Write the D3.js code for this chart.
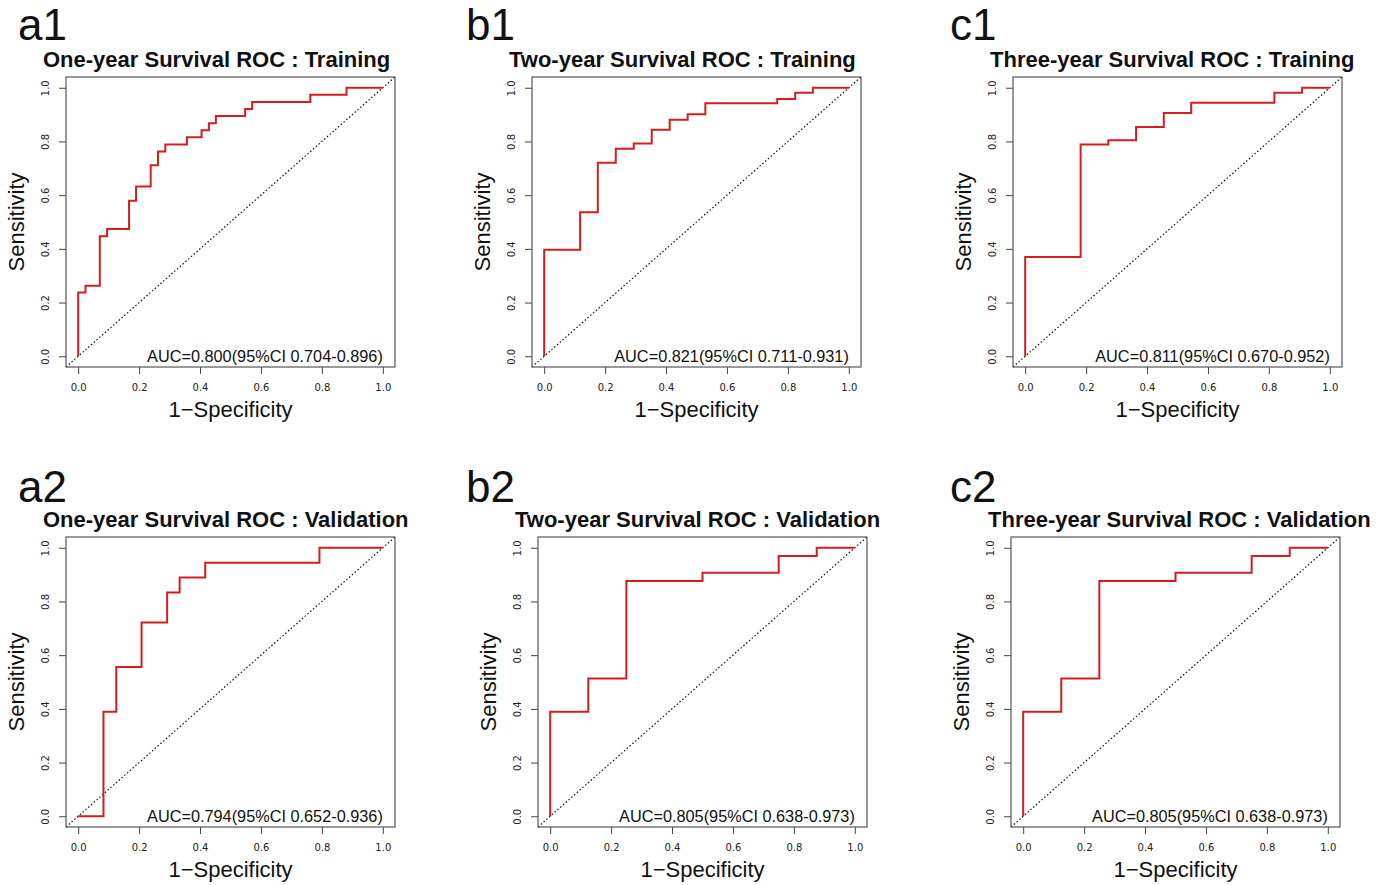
<!DOCTYPE html>
<html>
<head>
<meta charset="utf-8">
<script src="https://cdn.jsdelivr.net/npm/d3@7"></script>
<style>
  body { margin: 0; background: #fff; }
  svg { display: block; font-family: "Liberation Sans", Arial, sans-serif; }
</style>
</head>
<body>
<div id="chart"></div>
<script>
// Panel labels, titles and AUC notes
const panelIds = ['a1', 'b1', 'c1', 'a2', 'b2', 'c2'];
const titles = [
  'One-year Survival ROC : Training',
  'Two-year Survival ROC : Training',
  'Three-year Survival ROC : Training',
  'One-year Survival ROC : Validation',
  'Two-year Survival ROC : Validation',
  'Three-year Survival ROC : Validation',
];
const aucLabels = [
  'AUC=0.800(95%CI 0.704-0.896)',
  'AUC=0.821(95%CI 0.711-0.931)',
  'AUC=0.811(95%CI 0.670-0.952)',
  'AUC=0.794(95%CI 0.652-0.936)',
  'AUC=0.805(95%CI 0.638-0.973)',
  'AUC=0.805(95%CI 0.638-0.973)',
];

// ROC step corners (1-specificity, sensitivity)
const fprA1 = [0, 0, 0.024, 0.071, 0.095, 0.167, 0.190, 0.238, 0.262, 0.286, 0.357, 0.405, 0.429, 0.452, 0.548, 0.571, 0.762, 0.881, 1];
const tprA1 = [0, 0.237, 0.263, 0.447, 0.474, 0.579, 0.632, 0.711, 0.763, 0.789, 0.816, 0.842, 0.868, 0.895, 0.921, 0.947, 0.974, 1, 1];

const fprB1 = [0, 0, 0.118, 0.176, 0.235, 0.294, 0.353, 0.412, 0.471, 0.529, 0.765, 0.824, 0.882, 1];
const tprB1 = [0, 0.397, 0.536, 0.721, 0.773, 0.792, 0.844, 0.881, 0.901, 0.942, 0.958, 0.981, 1, 1];

const fprC1 = [0, 0, 0.182, 0.273, 0.364, 0.455, 0.545, 0.818, 0.909, 1];
const tprC1 = [0, 0.370, 0.789, 0.804, 0.854, 0.906, 0.944, 0.981, 1, 1];

const fprA2 = [0, 0.083, 0.125, 0.208, 0.292, 0.333, 0.417, 0.792, 1];
const tprA2 = [0, 0.389, 0.556, 0.722, 0.833, 0.889, 0.944, 1, 1];

const fprB2 = [0, 0, 0.125, 0.250, 0.500, 0.750, 0.875, 1];
const tprB2 = [0, 0.389, 0.513, 0.876, 0.907, 0.969, 1, 1];

const fprC2 = [0, 0, 0.125, 0.250, 0.500, 0.750, 0.875, 1];
const tprC2 = [0, 0.389, 0.513, 0.876, 0.907, 0.969, 1, 1];

const fprs = [fprA1, fprB1, fprC1, fprA2, fprB2, fprC2];
const tprs = [tprA1, tprB1, tprC1, tprA2, tprB2, tprC2];

const tickValues = [0, 0.2, 0.4, 0.6, 0.8, 1.0];

// Layout: box left / top for each panel, and where the big panel letter sits
const W = 1388, H = 885;
const boxW = 329, boxH = 290;
const boxes = [
  { left: 66, top: 77, letterX: 18, letterY: 40 },
  { left: 532, top: 77, letterX: 466, letterY: 40 },
  { left: 1013, top: 77, letterX: 950, letterY: 40 },
  { left: 66, top: 537, letterX: 18, letterY: 502 },
  { left: 538, top: 537, letterX: 466, letterY: 502 },
  { left: 1011, top: 537, letterX: 950, letterY: 502 },
];

const svg = d3.select('#chart').append('svg')
  .attr('width', W)
  .attr('height', H);

svg.append('rect').attr('width', W).attr('height', H).attr('fill', '#fff');

panelIds.forEach((id, i) => {
  const b = boxes[i];

  // Panel letter
  svg.append('text')
    .attr('x', b.letterX)
    .attr('y', b.letterY)
    .attr('font-size', 44)
    .attr('fill', '#111')
    .text(id);

  const g = svg.append('g').attr('transform', `translate(${b.left},${b.top})`);

  const x = d3.scaleLinear().domain([-0.04, 1.04]).range([0, boxW]);
  const y = d3.scaleLinear().domain([-0.04, 1.04]).range([boxH, 0]);

  // Title
  g.append('text')
    .attr('x', -23)
    .attr('y', -10)
    .attr('font-size', 22)
    .attr('font-weight', 'bold')
    .attr('fill', '#111')
    .text(titles[i]);

  // Axes
  const xAxis = g.append('g')
    .attr('transform', `translate(0,${boxH})`)
    .call(d3.axisBottom(x).tickValues(tickValues).tickSize(7).tickPadding(10).tickFormat(d3.format('.1f')));
  xAxis.select('.domain').remove();
  xAxis.selectAll('.tick line').attr('stroke', '#444');
  xAxis.selectAll('text').attr('font-size', 10).attr('fill', '#222')
    .attr('font-family', '"DejaVu Sans", sans-serif');

  const yAxis = g.append('g')
    .call(d3.axisLeft(y).tickValues(tickValues).tickSize(7).tickFormat(d3.format('.1f')));
  yAxis.select('.domain').remove();
  yAxis.selectAll('.tick line').attr('stroke', '#444');
  yAxis.selectAll('text')
    .attr('font-size', 10)
    .attr('fill', '#222')
    .attr('font-family', '"DejaVu Sans", sans-serif')
    .attr('transform', 'rotate(-90)')
    .attr('x', 0)
    .attr('y', -17)
    .attr('dy', 0)
    .style('text-anchor', 'middle');

  // Axis titles
  g.append('text')
    .attr('x', boxW / 2)
    .attr('y', boxH + 50)
    .attr('text-anchor', 'middle')
    .attr('font-size', 22)
    .attr('fill', '#111')
    .text('1\u2212Specificity');

  g.append('text')
    .attr('transform', `translate(-42,${boxH / 2}) rotate(-90)`)
    .attr('text-anchor', 'middle')
    .attr('font-size', 22)
    .attr('fill', '#111')
    .text('Sensitivity');

  // Reference diagonal
  g.append('line')
    .attr('x1', x(-0.04)).attr('y1', y(-0.04))
    .attr('x2', x(1.04)).attr('y2', y(1.04))
    .attr('stroke', '#111')
    .attr('stroke-width', 1.2)
    .attr('stroke-dasharray', '1.5,2.2');

  // ROC curve
  const pts = fprs[i].map((f, k) => [f, tprs[i][k]]);
  g.append('path')
    .datum(pts)
    .attr('fill', 'none')
    .attr('stroke', '#d41e1e')
    .attr('stroke-width', 2)
    .attr('d', d3.line()
      .x(d => x(d[0]))
      .y(d => y(d[1]))
      .curve(d3.curveStepAfter)
    );

  // AUC note
  g.append('text')
    .attr('x', x(1))
    .attr('y', boxH - 5)
    .attr('text-anchor', 'end')
    .attr('font-size', 16.3)
    .attr('fill', '#111')
    .text(aucLabels[i]);

  // Frame
  g.append('rect')
    .attr('width', boxW)
    .attr('height', boxH)
    .attr('fill', 'none')
    .attr('stroke', '#555')
    .attr('stroke-width', 1.2);
});
</script>
</body>
</html>
